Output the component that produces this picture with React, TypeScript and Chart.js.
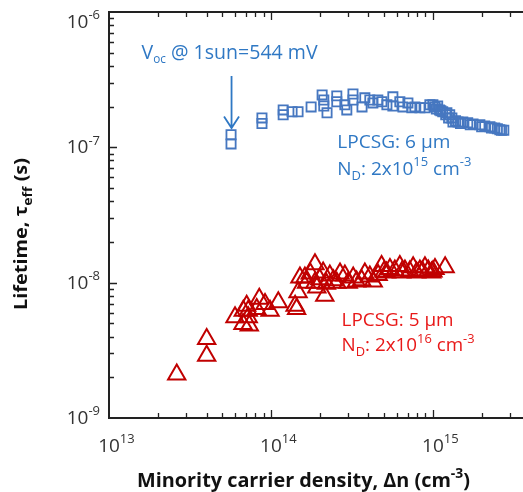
import React, { useEffect, useRef } from "react";
import { Chart, registerables } from "chart.js";

Chart.register(...registerables);

// ---- data ----
const blueX = [5.67e13, 5.67e13, 8.8e13, 8.8e13, 1.19e14, 1.19e14, 1.35e14, 1.47e14, 1.77e14, 2.07e14, 2.12e14, 2.12e14, 2.22e14, 2.55e14, 2.55e14, 2.86e14, 2.94e14, 3.21e14, 3.21e14, 3.65e14, 3.8e14, 4.08e14, 4.26e14, 4.57e14, 4.84e14, 5.2e14, 5.66e14, 5.66e14, 6.25e14, 6.53e14, 7.01e14, 7.41e14, 7.74e14, 8.31e14, 8.93e14, 9.58e14, 1.0e15, 1.03e15, 1.05e15, 1.07e15, 1.1e15, 1.12e15, 1.15e15, 1.2e15, 1.22e15, 1.25e15, 1.27e15, 1.31e15, 1.33e15, 1.38e15, 1.43e15, 1.48e15, 1.53e15, 1.64e15, 1.7e15, 1.77e15, 1.95e15, 2.0e15, 2.09e15, 2.25e15, 2.3e15, 2.41e15, 2.5e15, 2.59e15, 2.65e15, 2.74e15];
const blueY = [1.24e-7, 1.06e-7, 1.65e-7, 1.5e-7, 1.89e-7, 1.74e-7, 1.83e-7, 1.83e-7, 1.99e-7, 2.44e-7, 2.24e-7, 2.02e-7, 1.8e-7, 2.4e-7, 2.17e-7, 2.06e-7, 1.89e-7, 2.48e-7, 2.24e-7, 1.99e-7, 2.32e-7, 2.24e-7, 2.13e-7, 2.24e-7, 2.17e-7, 2.06e-7, 2.36e-7, 2.02e-7, 2.17e-7, 1.99e-7, 2.13e-7, 1.96e-7, 1.99e-7, 1.96e-7, 1.96e-7, 2.06e-7, 2.06e-7, 1.99e-7, 1.92e-7, 2.02e-7, 1.89e-7, 1.86e-7, 1.83e-7, 1.74e-7, 1.8e-7, 1.65e-7, 1.74e-7, 1.65e-7, 1.54e-7, 1.57e-7, 1.54e-7, 1.5e-7, 1.54e-7, 1.52e-7, 1.47e-7, 1.49e-7, 1.47e-7, 1.42e-7, 1.44e-7, 1.42e-7, 1.39e-7, 1.39e-7, 1.37e-7, 1.35e-7, 1.34e-7, 1.34e-7];

const redX = [2.62e13, 4.01e13, 4.01e13, 6.0e13, 6.75e13, 7.08e13, 7.24e13, 7.24e13, 6.72e13, 7.35e13, 8.47e13, 8.17e13, 9.19e13, 9.87e13, 1.11e14, 1.41e14, 1.44e14, 1.47e14, 1.51e14, 1.62e14, 1.66e14, 1.87e14, 1.87e14, 1.92e14, 2.15e14, 2.1e14, 2.31e14, 2.43e14, 2.55e14, 2.67e14, 2.86e14, 3.0e14, 3.22e14, 3.38e14, 3.63e14, 3.8e14, 4.08e14, 4.28e14, 4.59e14, 4.82e14, 5.17e14, 5.43e14, 5.82e14, 6.25e14, 6.41e14, 6.72e14, 7.55e14, 7.93e14, 8.31e14, 8.93e14, 9.36e14, 9.82e14, 1.03e15, 1.19e15, 1.75e14, 2.0e14, 2.2e14, 5.0e14, 7.2e14, 8.6e14, 1.0e15];
const redY = [2.1e-9, 3.84e-9, 2.89e-9, 5.55e-9, 6.21e-9, 6.76e-9, 6.21e-9, 5.55e-9, 4.95e-9, 4.82e-9, 7.59e-9, 6.4e-9, 6.97e-9, 6.21e-9, 7.16e-9, 6.76e-9, 6.4e-9, 8.48e-9, 1.09e-8, 1.09e-8, 1.0e-8, 1.37e-8, 1.0e-8, 9.23e-9, 8.02e-9, 1.19e-8, 1.13e-8, 1.04e-8, 1.0e-8, 1.17e-8, 1.13e-8, 1.0e-8, 1.09e-8, 1.02e-8, 1.04e-8, 1.17e-8, 1.11e-8, 1.02e-8, 1.14e-8, 1.33e-8, 1.19e-8, 1.26e-8, 1.23e-8, 1.33e-8, 1.19e-8, 1.23e-8, 1.3e-8, 1.19e-8, 1.23e-8, 1.3e-8, 1.23e-8, 1.19e-8, 1.26e-8, 1.3e-8, 1.17e-8, 1.06e-8, 9.8e-9, 1.21e-8, 1.21e-8, 1.21e-8, 1.21e-8];

const xMin = 1e13;
const xMax = 3.6e15;
const yMin = 1e-9;
const yMax = 1e-6;
const xTickExps = [13, 14, 15];
const yTickExps = [-6, -7, -8, -9];

// ---- styles ----
const FONT = '"Open Sans", "DejaVu Sans", sans-serif';
const BLUE_MARK = "#4677c0";
const BLUE_TEXT = "#2f78c4";
const RED_MARK = "#c00000";
const RED_TEXT = "#e81818";
const AXIS = "#222222";
const LABEL = "#333333";

type Seg = { t: string; k?: "sup" | "sub" };

function drawRich(
  ctx: CanvasRenderingContext2D,
  segs: Seg[],
  x: number,
  y: number,
  size: number,
  weight: string,
  color: string,
  align: "left" | "center" | "right",
  targetW?: number,
  subSize = 0.68,
  supDy = 0.45,
  subDy = 0.25
) {
  const fontFor = (s: Seg) =>
    `${weight} ${s.k ? Math.round(size * subSize) : size}px ${FONT}`;
  let W = 0;
  const widths = segs.map((s) => {
    ctx.font = fontFor(s);
    const w = ctx.measureText(s.t).width;
    W += w;
    return w;
  });
  const sx = targetW ? targetW / W : 1;
  const total = W * sx;
  let x0 = x;
  if (align === "center") x0 = x - total / 2;
  if (align === "right") x0 = x - total;
  ctx.save();
  ctx.translate(x0, y);
  ctx.scale(sx, 1);
  ctx.fillStyle = color;
  ctx.textAlign = "left";
  ctx.textBaseline = "alphabetic";
  let cx = 0;
  segs.forEach((s, i) => {
    ctx.font = fontFor(s);
    const dy = s.k === "sup" ? -size * supDy : s.k === "sub" ? size * subDy : 0;
    ctx.fillText(s.t, cx, dy);
    cx += widths[i];
  });
  ctx.restore();
}

const framePlugin = {
  id: "frame",
  afterDatasetsDraw(chart: any) {
    const { ctx, chartArea } = chart;
    const { left, right, top, bottom } = chartArea;
    const xs = chart.scales.x;
    const ys = chart.scales.y;
    ctx.save();

    // frame (left, bottom, top)
    ctx.strokeStyle = AXIS;
    ctx.lineWidth = 2;
    ctx.beginPath();
    ctx.moveTo(right, top);
    ctx.lineTo(left, top);
    ctx.lineTo(left, bottom);
    ctx.lineTo(right, bottom);
    ctx.stroke();

    // ticks
    ctx.lineWidth = 1.3;
    ctx.beginPath();
    for (let e = 12; e <= 16; e++) {
      for (let m = 1; m <= 9; m++) {
        const v = m * Math.pow(10, e);
        if (v <= xMin * 1.0001 || v >= xMax) continue;
        const px = Math.round(xs.getPixelForValue(v)) + 0.5;
        const len = m === 1 ? 8 : 5;
        ctx.moveTo(px, bottom);
        ctx.lineTo(px, bottom - len);
        ctx.moveTo(px, top);
        ctx.lineTo(px, top + len);
      }
    }
    for (let e = -10; e <= -6; e++) {
      for (let m = 1; m <= 9; m++) {
        const v = m * Math.pow(10, e);
        if (v <= yMin * 1.0001 || v >= yMax * 0.9999) continue;
        const py = Math.round(ys.getPixelForValue(v)) + 0.5;
        const len = m === 1 ? 8 : 5;
        ctx.moveTo(left, py);
        ctx.lineTo(left + len, py);
      }
    }
    ctx.stroke();

    // y tick labels
    yTickExps.forEach((e) => {
      const py = ys.getPixelForValue(Math.pow(10, e));
      const base = Math.max(py + 6, top + 16);
      drawRich(ctx, [{ t: "10" }, { t: String(e), k: "sup" }], 100, base, 19, "400", LABEL, "right", undefined, 0.68, 0.45);
    });

    // x tick labels: "10" centred on the tick, exponent to the right
    xTickExps.forEach((e) => {
      const px = xs.getPixelForValue(Math.pow(10, e));
      ctx.font = `400 19px ${FONT}`;
      const w10 = ctx.measureText("10").width;
      drawRich(ctx, [{ t: "10" }, { t: String(e), k: "sup" }], px - w10 / 2, bottom + 34, 19, "400", LABEL, "left", undefined, 0.68, 0.45);
    });

    // axis titles
    drawRich(
      ctx,
      [{ t: "Minority carrier density, Δn (cm" }, { t: "-3", k: "sup" }, { t: ")" }],
      303.5,
      486.5,
      20,
      "700",
      "#111111",
      "center",
      333
    );
    ctx.save();
    ctx.translate(27, 234);
    ctx.rotate(-Math.PI / 2);
    drawRich(
      ctx,
      [{ t: "Lifetime, τ" }, { t: "eff", k: "sub" }, { t: " (s)" }],
      0,
      0,
      17,
      "700",
      "#111111",
      "center",
      152,
      0.68,
      0.45,
      0.3
    );
    ctx.restore();

    // annotations (anchored in data coordinates)
    const X = (v: number) => xs.getPixelForValue(v);
    const Y = (v: number) => ys.getPixelForValue(v);

    drawRich(ctx, [{ t: "V" }, { t: "oc", k: "sub" }, { t: " @ 1sun=544 mV" }], X(1.59e13), Y(4.48e-7), 20, "400", BLUE_TEXT, "left", 176, 0.62, 0.45, 0.18);

    // arrow
    const ax = X(5.71e13);
    const ay0 = Y(3.37e-7);
    const ay1 = Y(1.39e-7);
    ctx.strokeStyle = BLUE_TEXT;
    ctx.lineWidth = 1.8;
    ctx.beginPath();
    ctx.moveTo(ax, ay0);
    ctx.lineTo(ax, ay1);
    ctx.moveTo(ax - 7.5, ay1 - 11.5);
    ctx.lineTo(ax, ay1);
    ctx.lineTo(ax + 7.5, ay1 - 11.5);
    ctx.stroke();

    drawRich(ctx, [{ t: "LPCSG: 6 μm" }], X(2.57e14), Y(9.87e-8), 19, "400", BLUE_TEXT, "left", 113);
    drawRich(ctx, [{ t: "N" }, { t: "D", k: "sub" }, { t: ": 2x10" }, { t: "15", k: "sup" }, { t: " cm" }, { t: "-3", k: "sup" }], X(2.57e14), Y(6.26e-8), 19, "400", BLUE_TEXT, "left", 134);
    drawRich(ctx, [{ t: "LPCSG: 5 μm" }], X(2.73e14), Y(4.82e-9), 19, "400", RED_TEXT, "left", 112);
    drawRich(ctx, [{ t: "N" }, { t: "D", k: "sub" }, { t: ": 2x10" }, { t: "16", k: "sup" }, { t: " cm" }, { t: "-3", k: "sup" }], X(2.73e14), Y(3.11e-9), 19, "400", RED_TEXT, "left", 133);

    ctx.restore();
  },
};

export default function App() {
  const ref = useRef<HTMLCanvasElement | null>(null);

  useEffect(() => {
    if (!ref.current) return;
    const chart = new Chart(ref.current, {
      type: "scatter",
      data: {
        datasets: [
          {
            label: "LPCSG 6 μm, ND 2x10^15",
            data: blueX.map((x, i) => ({ x, y: blueY[i] })),
            pointStyle: "rect",
            pointRadius: 6.5,
            pointHoverRadius: 6.5,
            borderColor: BLUE_MARK,
            backgroundColor: "rgba(0,0,0,0)",
            borderWidth: 1.8,
          },
          {
            label: "LPCSG 5 μm, ND 2x10^16",
            data: redX.map((x, i) => ({ x, y: redY[i] })),
            pointStyle: "triangle",
            pointRadius: 10,
            pointHoverRadius: 10,
            borderColor: RED_MARK,
            backgroundColor: "rgba(0,0,0,0)",
            borderWidth: 2,
          },
        ],
      },
      options: {
        responsive: false,
        animation: false,
        devicePixelRatio: 1,
        events: [],
        layout: { autoPadding: false, padding: { left: 109, top: 12, right: 0, bottom: 74 } },
        plugins: { legend: { display: false }, tooltip: { enabled: false } },
        scales: {
          x: { type: "logarithmic", min: xMin, max: xMax, display: false },
          y: { type: "logarithmic", min: yMin, max: yMax, display: false },
        },
      },
      plugins: [framePlugin],
    });
    return () => chart.destroy();
  }, []);

  return (
    <div style={{ position: "fixed", left: 0, top: 0, width: 523, height: 492, background: "#ffffff" }}>
      <canvas ref={ref} width={523} height={492} style={{ width: 523, height: 492, display: "block" }} />
    </div>
  );
}
